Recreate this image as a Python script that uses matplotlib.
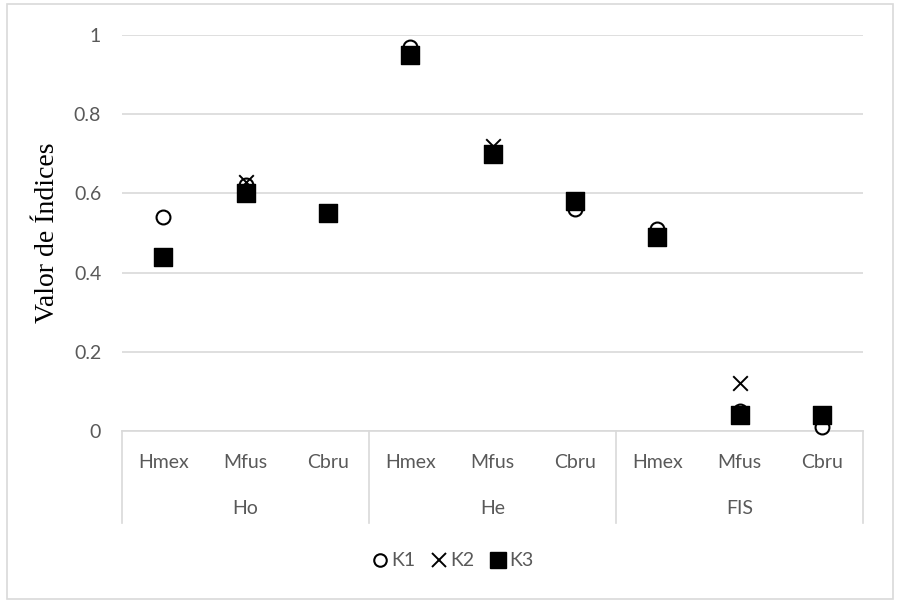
import matplotlib
matplotlib.use("Agg")
import matplotlib.pyplot as plt
from matplotlib.patches import Rectangle
from matplotlib.lines import Line2D

groups = ["Ho", "He", "FIS"]
species = ["Hmex", "Mfus", "Cbru"]
k1 = [0.54, 0.62, 0.55, 0.97, 0.70, 0.56, 0.51, 0.05, 0.01]
k2 = [0.44, 0.63, 0.55, 0.95, 0.72, 0.58, 0.49, 0.12, 0.04]
k3 = [0.44, 0.60, 0.55, 0.95, 0.70, 0.58, 0.49, 0.04, 0.04]
yticks = [0, 0.2, 0.4, 0.6, 0.8, 1]
ytick_labels = ["0", "0.2", "0.4", "0.6", "0.8", "1"]

W, H = 899, 607
fig = plt.figure(figsize=(W / 100, H / 100), dpi=100)
sans = ["Lato", "DejaVu Sans"]
gray_txt = "#595959"
grid_c = "#d9d9d9"
fs = 14

# outer border
fig.patches.append(Rectangle((7 / W, 1 - 599 / H), (893 - 7) / W, (599 - 4) / H,
                             transform=fig.transFigure, fill=False, edgecolor=grid_c, lw=1.2))

left, right, top, bottom = 122, 863, 35, 431
ax = fig.add_axes([left / W, 1 - bottom / H, (right - left) / W, (bottom - top) / H])
ax.set_xlim(-0.5, 8.5)
ax.set_ylim(0, 1)
for s in ax.spines.values():
    s.set_visible(False)
ax.set_yticks(yticks)
ax.set_yticklabels(ytick_labels, fontfamily=sans, fontsize=fs, color=gray_txt)
ax.tick_params(axis="y", length=0, pad=15)
ax.set_xticks([])
ax.yaxis.grid(True, color=grid_c, lw=1.2)
ax.set_axisbelow(True)

x = list(range(9))
ax.scatter(x, k1, marker="o", s=100, facecolors="white", edgecolors="black", linewidths=1.5, zorder=3, clip_on=False)
ax.scatter(x, k2, marker="x", s=110, color="black", linewidths=1.4, zorder=4, clip_on=False)
ax.scatter(x, k3, marker="s", s=150, color="black", zorder=5, clip_on=False)

ax.set_ylabel("Valor de Índices", fontfamily=["Liberation Serif"], fontsize=20, labelpad=10)

# category axis box
px_h = bottom - top
depth = (523 - bottom) / px_h
for xv in [-0.5, 2.5, 5.5, 8.5]:
    ax.plot([xv, xv], [0, -depth], color=grid_c, lw=1.2, clip_on=False,
            transform=ax.get_xaxis_transform())
ax.plot([-0.5, 8.5], [0, 0], color=grid_c, lw=1.2, clip_on=False,
        transform=ax.get_xaxis_transform(), zorder=1)

for i in range(9):
    ax.text(i, -(463 - bottom) / px_h, species[i % 3], transform=ax.get_xaxis_transform(),
            ha="center", va="center", fontfamily=sans, fontsize=fs, color=gray_txt)
for g, name in enumerate(groups):
    ax.text(3 * g + 1, -(508 - bottom) / px_h, name, transform=ax.get_xaxis_transform(),
            ha="center", va="center", fontfamily=sans, fontsize=fs, color=gray_txt)

handles = [
    Line2D([], [], marker="o", ls="none", markerfacecolor="white", markeredgecolor="black", markeredgewidth=1.5, markersize=9),
    Line2D([], [], marker="x", ls="none", color="black", markeredgewidth=1.4, markersize=10),
    Line2D([], [], marker="s", ls="none", color="black", markersize=11),
]
leg = fig.legend(handles, ["K1", "K2", "K3"], loc="center", bbox_to_anchor=(453 / W, 1 - 561 / H),
                 ncol=3, frameon=False, handlelength=0.8, handletextpad=0.2, columnspacing=0.8,
                 prop={"family": sans, "size": fs})
for t in leg.get_texts():
    t.set_color(gray_txt)

fig.savefig("out.png", dpi=100)
